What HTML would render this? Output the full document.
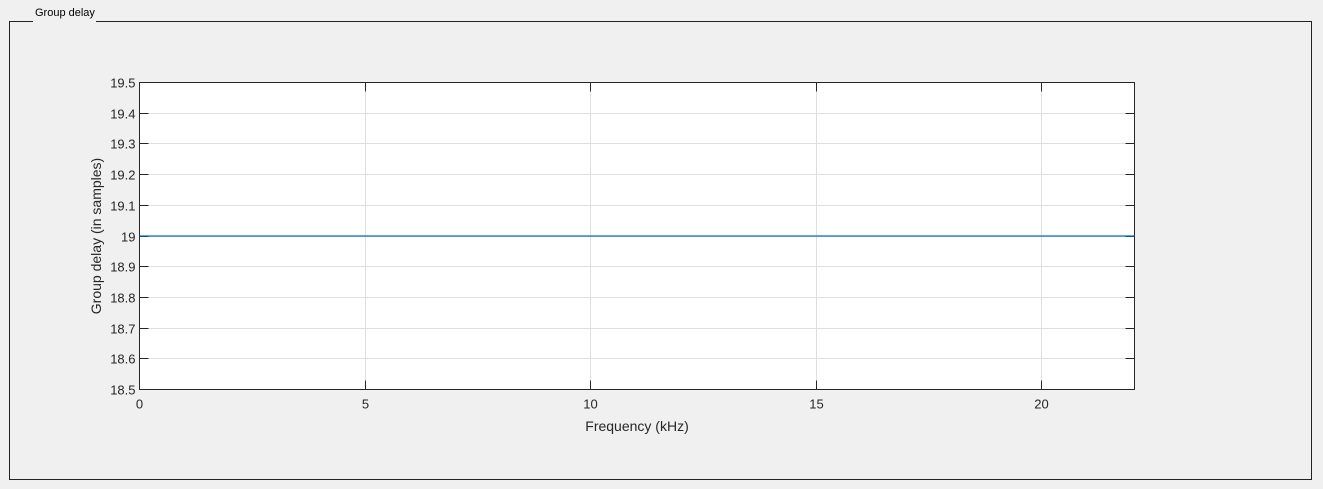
<!DOCTYPE html>
<html><head><meta charset="utf-8"><style>
body{margin:0;background:#f0f0f0;width:1323px;height:489px;overflow:hidden;font-family:"Liberation Sans",sans-serif}
</style></head><body>
<svg width="1323" height="489" xmlns="http://www.w3.org/2000/svg" style="display:block">
<rect x="0" y="0" width="1323" height="489" fill="#f0f0f0"/>
<path d="M33 21.5 H9.5 V479.5 H1311.5 V21.5 H96" fill="none" stroke="#222" stroke-width="1"/>
<text x="35" y="16" font-size="11" fill="#000">Group delay</text>
<g id="chart"></g>
</svg>
<script>
const xTicks=[0,5,10,15,20];
const yTicks=[18.5,18.6,18.7,18.8,18.9,19,19.1,19.2,19.3,19.4,19.5];
const yTickLabels=["18.5","18.6","18.7","18.8","18.9","19","19.1","19.2","19.3","19.4","19.5"];
const freqs=[0,22.05];
const delays=[19,19];
const L=139.5,R=1134.5,T=82.5,B=389.5,XMAX=22.05,YMIN=18.5,YMAX=19.5;
const sx=v=>L+(v/XMAX)*(R-L);
const sy=v=>B-(v-YMIN)/(YMAX-YMIN)*(B-T);
const NS="http://www.w3.org/2000/svg";
const g=document.getElementById('chart');
function mk(t,a,txt){const e=document.createElementNS(NS,t);for(const k in a)e.setAttribute(k,a[k]);if(txt!==undefined)e.textContent=txt;g.appendChild(e);return e;}
const bg=mk('rect',{x:L,y:T,width:R-L,height:B-T,fill:'#fff'});


xTicks.forEach(v=>{const x=Math.round(sx(v)-0.5)+0.5;
 const gl=mk('line',{x1:x,x2:x,y1:T,y2:B,stroke:'#dfdfdf'});
 
 
 mk('line',{x1:x,x2:x,y1:B,y2:B-9,stroke:'#262626'});
 mk('line',{x1:x,x2:x,y1:T,y2:T+9,stroke:'#262626'});
 const t=mk('text',{x:x,y:B+19,'font-size':13,'text-anchor':'middle',fill:'#262626'},String(v));
 
 
});
yTicks.forEach((v,i)=>{const y=Math.round(sy(v)-0.5)+0.5;
 const gl=mk('line',{x1:L,x2:R,y1:y,y2:y,stroke:'#dfdfdf'});
 
 
 mk('line',{x1:L,x2:L+9,y1:y,y2:y,stroke:'#262626'});
 mk('line',{x1:R,x2:R-9,y1:y,y2:y,stroke:'#262626'});
 const t=mk('text',{x:L-4,y:y+5,'font-size':13,'text-anchor':'end',fill:'#262626'},yTickLabels[i]);
 
 
});
const box=mk('rect',{x:L,y:T,width:R-L,height:B-T,fill:'none',stroke:'#262626'});


const line=mk('polyline',{points:freqs.map((f,i)=>sx(f)+','+sy(delays[i])).join(' '),fill:'none',stroke:'#0072bd','stroke-width':1.3});


const xl=mk('text',{x:(L+R)/2,y:431,'font-size':14,'text-anchor':'middle',fill:'#262626'},'Frequency (kHz)');


const yl=mk('text',{x:0,y:0,'font-size':14,'text-anchor':'middle',fill:'#262626',transform:'translate(101,'+((T+B)/2)+') rotate(-90)'},'Group delay (in samples)');


</script>
</body></html>
